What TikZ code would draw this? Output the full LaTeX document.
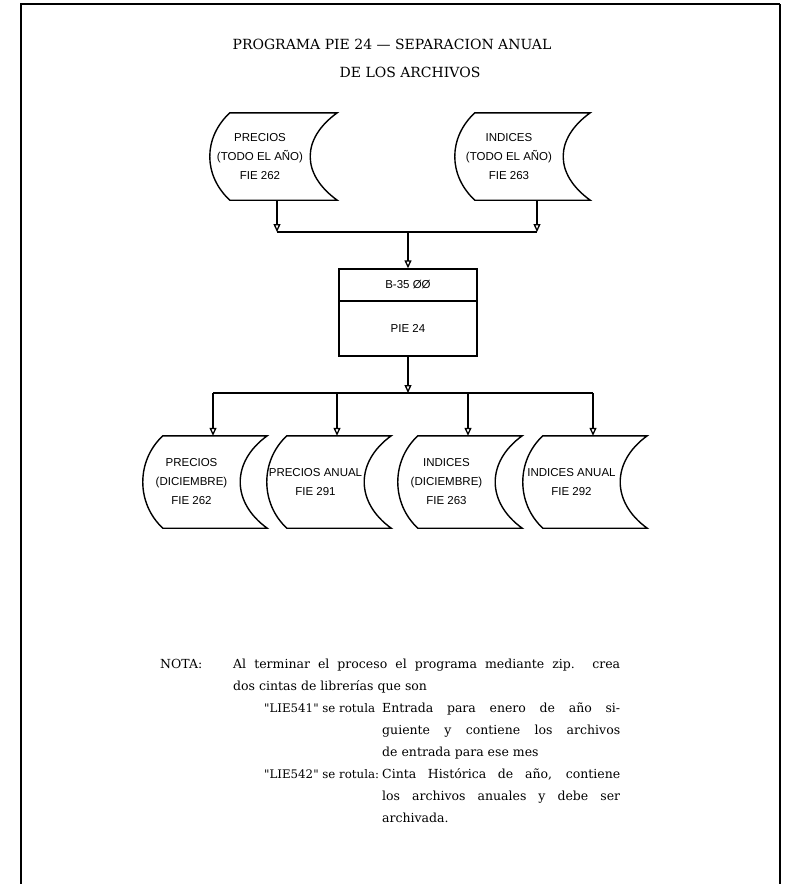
\documentclass[tikz,border=0pt]{standalone}
\usepackage{fontspec}
\setmainfont{DejaVu Serif}
\newfontfamily\rotulo{Liberation Sans}
\usetikzlibrary{arrows.meta}

\newcommand{\cinta}[1]{%
  \draw[linea] ([xshift=20pt]#1.north west) -- ([xshift=27pt]#1.north east)
    .. controls +(-36,26) and +(-36,-26) .. ([xshift=27pt]#1.south east)
    -- ([xshift=20pt]#1.south west)
    .. controls +(-26.7,-25) and +(-26.7,25) .. cycle;}

\tikzset{
  linea/.style={line width=1.4pt},
  flecha/.style={line width=1.3pt, -{Triangle[open,length=8pt,width=7pt]}},
  archivo/.style={minimum height=87pt, inner sep=0pt, align=center,
    font=\rotulo\fontsize{11.5}{19}\selectfont},
  caja/.style={draw, line width=1.4pt, minimum width=138pt, inner sep=0pt,
    font=\rotulo\fontsize{11.5}{13}\selectfont},
  titulo/.style={font=\fontsize{14}{16}\selectfont, inner sep=0pt},
  nota/.style={anchor=base west, inner sep=0pt, font=\fontsize{12.5}{15}\selectfont},
  rotula/.style={nota, font=\fontsize{11.8}{15}\selectfont}
}

\begin{document}
\begin{tikzpicture}[x=1pt,y=-1pt]
    \useasboundingbox (0,0) rectangle (785,884);
    % marco de la hoja
    \draw[line width=2pt] (21,884) -- (21,4) -- (780,4);
    \draw[line width=1.2pt] (780,4) -- (780,884);

    \node[titulo] (tit1) at (392,44) {PROGRAMA PIE 24 --- SEPARACION ANUAL};
    \node[titulo] (tit2) at (410,72) {DE LOS ARCHIVOS};

    % archivos de entrada
    \node[archivo, minimum width=100pt] (precios) at (260,156.5) {PRECIOS\\(TODO EL AÑO)\\FIE 262};
    \node[archivo, minimum width=108pt] (indices) at (509,156.5) {INDICES\\(TODO EL AÑO)\\FIE 263};
    \cinta{precios}
    \cinta{indices}

    % programa
    \node[caja, minimum height=32pt] (codigo) at (408,285) {B-35 ØØ};
    \node[caja, minimum height=55pt] (pie) at (408,328.5) {PIE 24};

    % archivos de salida
    \node[archivo, minimum width=97pt, minimum height=92pt] (pdic) at (191.5,482) {PRECIOS\\(DICIEMBRE)\\FIE 262};
    \node[archivo, minimum width=97pt, minimum height=92pt] (panual) at (315.5,482) {PRECIOS ANUAL\\FIE 291};
    \node[archivo, minimum width=97pt, minimum height=92pt] (idic) at (446.5,482) {INDICES\\(DICIEMBRE)\\FIE 263};
    \node[archivo, minimum width=97pt, minimum height=92pt] (ianual) at (571.5,482) {INDICES ANUAL\\FIE 292};
    \foreach \n in {pdic,panual,idic,ianual} {\cinta{\n}}

    % conexiones
    \coordinate (j1) at (408,232);
    \coordinate (j2) at (408,393);
    \coordinate (s1) at ([xshift=17pt]precios.south);
    \coordinate (s2) at ([xshift=28pt]indices.south);
    \draw[flecha] (s1) -- (s1 |- j1);
    \draw[flecha] (s2) -- (s2 |- j1);
    \draw[linea] (s1 |- j1) -- (s2 |- j1);
    \draw[flecha] (j1) -- (codigo.north);
    \draw[flecha] (pie.south) -- (j2);
    \foreach \n in {pdic,panual,idic,ianual}
      {\coordinate (t\n) at ([xshift=21.5pt]\n.north);}
    \draw[linea] (tpdic |- j2) -- (tianual |- j2);
    \foreach \n in {pdic,panual,idic,ianual}
      {\draw[flecha] (t\n |- j2) -- (t\n);}

    % nota
    \node[nota] (nota) at (160,668) {NOTA:};
    \node[nota] (l1) at (233,668) {\makebox[387pt][s]{Al terminar el proceso el programa mediante zip. crea}};
    \node[nota] (l2) at (233,690) {dos cintas de librerías que son};
    \node[rotula] (r1) at (264,712) {\textquotedbl LIE541\textquotedbl\ se rotula};
    \node[nota] (l3) at (382,712) {\makebox[238pt][s]{Entrada para enero de año si-}};
    \node[nota] (l4) at (382,734) {\makebox[238pt][s]{guiente y contiene los archivos}};
    \node[nota] (l5) at (382,756) {de entrada para ese mes};
    \node[rotula] (r2) at (264,778) {\textquotedbl LIE542\textquotedbl\ se rotula:};
    \node[nota] (l6) at (382,778) {\makebox[238pt][s]{Cinta Histórica de año, contiene}};
    \node[nota] (l7) at (382,800) {\makebox[238pt][s]{los archivos anuales y debe ser}};
    \node[nota] (l8) at (382,822) {archivada.};
\end{tikzpicture}
\end{document}
